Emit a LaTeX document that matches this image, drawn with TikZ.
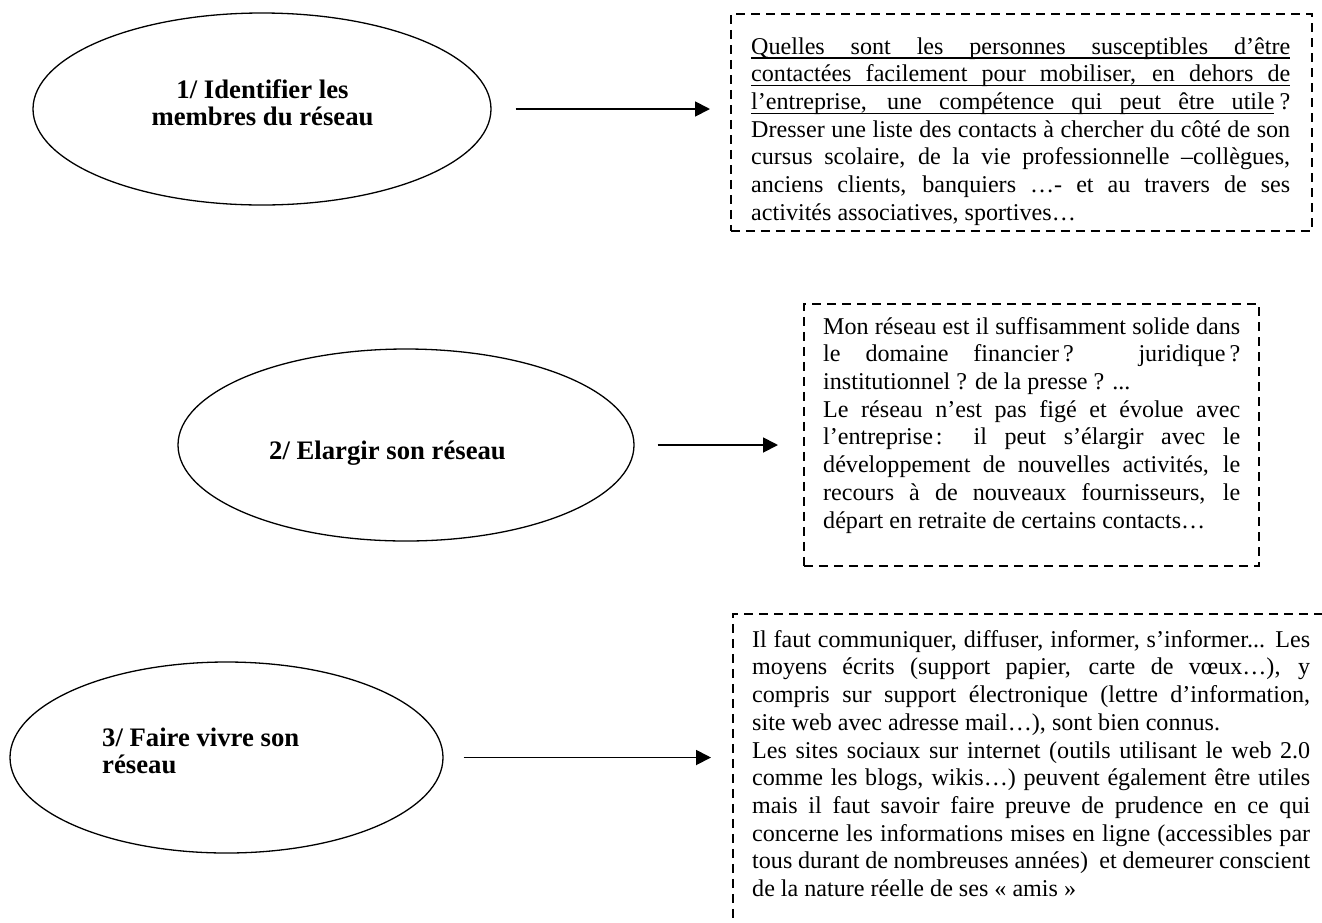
\documentclass[tikz,border=0pt]{standalone}
\usepackage{fontspec}
\setmainfont{Liberation Serif}
\usetikzlibrary{shapes.geometric,arrows.meta}
\setlength\parindent{0pt}
\newcommand\bsp{\spaceskip=.25em plus .8em minus .02em\relax\xspaceskip=0pt\relax}
\newcommand\jl[1]{\leavevmode\makebox[\linewidth][s]{#1}\par}
\newcommand\ulrule[1]{\leavevmode\rlap{\rule[-4.5pt]{#1}{1.3pt}}}
\begin{document}
\begin{tikzpicture}[x=1pt,y=1pt,
  ell/.style={draw, ellipse, line width=1.3pt, inner sep=0},
  ttl/.style={font=\bfseries\fontsize{26.7}{27}\selectfont, inner sep=0},
  dbox/.style={draw, dash pattern=on 9pt off 6pt, line width=1.8pt, inner sep=0, anchor=north west},
  body/.style={font=\fontsize{24.1}{27.7}\selectfont, inner sep=0, anchor=north west},
  arr/.style={line width=1.8pt, -{Triangle[length=15pt,width=15pt]}}]
\useasboundingbox (0,0) rectangle (1322,-922);
\clip (0,0) rectangle (1322,-922);

% ellipses
\node[ell, minimum width=458pt, minimum height=192pt] (e1) at (262,-109) {};
\node[ell, minimum width=456pt, minimum height=192pt] (e2) at (406,-445) {};
\node[ell, minimum width=433pt, minimum height=191pt] (e3) at (226.5,-757.5) {};

% titles
\node[ttl, text width=300pt, anchor=north] (n1) at (262.5,-79.1) {\bsp\centering\strut 1/ Identifier les\\membres du réseau\par};
\node[ttl, anchor=base] (n2) at (387.5,-459) {\bsp 2/ Elargir son réseau};
\node[ttl, text width=300pt, anchor=north west] (n3) at (102,-727.1) {\bsp\raggedright\strut 3/ Faire vivre son\\réseau\par};

% dashed boxes
\node[dbox, minimum width=581pt, minimum height=217pt] (b1) at (730,-13) {};
\node[dbox, minimum width=455pt, minimum height=262pt] (b2) at (803,-303) {};
\node[dbox, minimum width=640pt, minimum height=360pt] (b3) at (732,-613) {};

% box texts
\node[body, text width=539pt] (t1) at ([xshift=21pt,yshift=-21.6pt]b1.north west) {\bsp
\strut\ulrule{\linewidth}\makebox[\linewidth][s]{Quelles sont les personnes susceptibles d’être}\par
\ulrule{\linewidth}\jl{contactées facilement pour mobiliser, en dehors de}%
\ulrule{\dimexpr\linewidth-16pt\relax}\jl{l’entreprise, une compétence qui peut être utile\kern5pt?}%
\jl{Dresser une liste des contacts à chercher du côté de son}%
\jl{cursus scolaire, de la vie professionnelle –collègues,}%
\jl{anciens clients, banquiers …- et au travers de ses}%
activités associatives, sportives…\par};

\node[body, text width=417pt] (t2) at ([xshift=20pt,yshift=-11.6pt]b2.north west) {\bsp
\strut\makebox[\linewidth][s]{Mon réseau est il suffisamment solide dans}\par
\jl{le domaine financier\kern4pt? juridique\kern4pt?}%
institutionnel ? de la presse ? ...\par
\jl{Le réseau n’est pas figé et évolue avec}%
\jl{l’entreprise\kern3pt: il peut s’élargir avec le}%
\jl{développement de nouvelles activités, le}%
\jl{recours à de nouveaux fournisseurs, le}%
départ en retraite de certains contacts…\par};

\node[body, text width=558pt] (t3) at ([xshift=20pt,yshift=-14.6pt]b3.north west) {\bsp
\strut\makebox[\linewidth][s]{Il faut communiquer, diffuser, informer, s’informer... Les}\par
\jl{moyens écrits (support papier, carte de vœux…), y}%
\jl{compris sur support électronique (lettre d’information,}%
site web avec adresse mail…), sont bien connus.\par
\jl{Les sites sociaux sur internet (outils utilisant le web 2.0}%
\jl{comme les blogs, wikis…) peuvent également être utiles}%
\jl{mais il faut savoir faire preuve de prudence en ce qui}%
\jl{concerne les informations mises en ligne (accessibles par}%
\jl{tous durant de nombreuses années)\ \ et demeurer conscient}%
de la nature réelle de ses « amis »\par};

% arrows
\draw[arr, shorten <=24pt, shorten >=20pt] (e1.east) -- (e1.east -| b1.west);
\draw[arr, shorten <=23pt, shorten >=25pt] (e2.east) -- (e2.east -| b2.west);
\draw[arr, shorten <=20pt, shorten >=21pt] (e3.east) -- (e3.east -| b3.west);
\end{tikzpicture}
\end{document}
